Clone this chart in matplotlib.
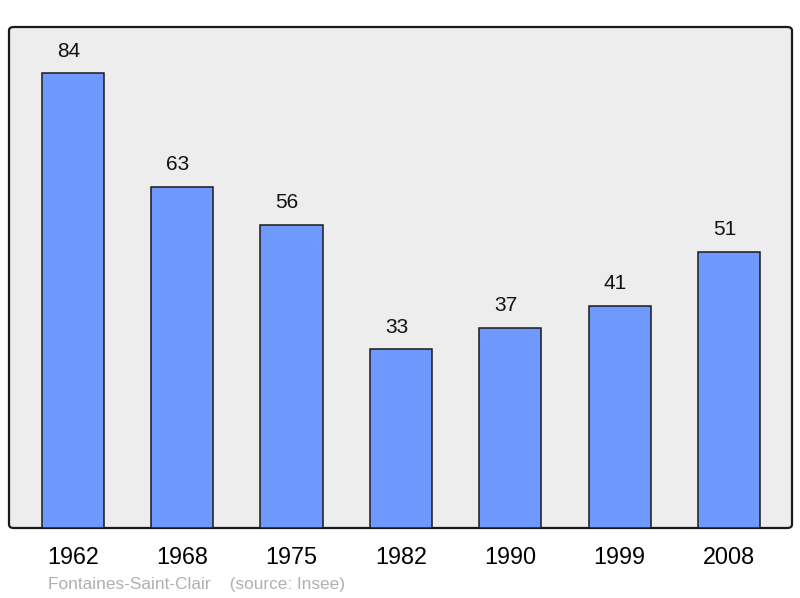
import matplotlib.pyplot as plt
from matplotlib.patches import FancyBboxPatch

plt.rcParams['font.family'] = ['Liberation Sans', 'DejaVu Sans']

years = ['1962', '1968', '1975', '1982', '1990', '1999', '2008']
population = [84, 63, 56, 33, 37, 41, 51]

fig = plt.figure(figsize=(8, 5.98), dpi=100)
ax = fig.add_axes([9/800, 70/598, 783/800, 501/598])
ax.set_facecolor('none')

# rounded frame behind the bars
frame = FancyBboxPatch((9/800, 70/598), 783/800, 501/598,
                       boxstyle='round,pad=0,rounding_size=0.006',
                       transform=fig.transFigure, facecolor='#ededed',
                       edgecolor='#1a1a1a', linewidth=1.6, zorder=0,
                       clip_on=False)
ax.add_patch(frame)

x = list(range(len(years)))
bars = ax.bar(x, population, width=0.57, color='#7099ff',
              edgecolor='#1a1a1a', linewidth=1.1, zorder=2)
for xi, v in zip(x, population):
    ax.annotate(str(v), (xi, v), xytext=(-3.2, 15.8), textcoords='offset points',
                ha='center', va='center', fontsize=15, color='#111111')

ax.set_xlim(-0.585, 6.576)
ax.set_ylim(0, 92.5)
ax.set_yticks([])
ax.set_xticks(x)
ax.set_xticklabels(years, fontsize=16.8)
ax.tick_params(axis='x', length=0, pad=13)
for s in ax.spines.values():
    s.set_visible(False)

fig.text(48/800, 1 - 584/598, 'Fontaines-Saint-Clair    (source: Insee)',
         fontsize=12.4, color='#b0b0b0', va='center', ha='left')

fig.savefig('out.png', dpi=100)
